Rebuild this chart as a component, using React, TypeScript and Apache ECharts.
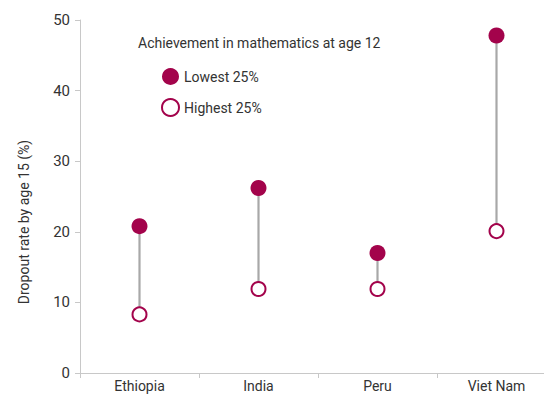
import React, { useEffect, useRef } from "react";
import * as echarts from "echarts";

const countries = ["Ethiopia", "India", "Peru", "Viet Nam"];
const lowest25 = [20.8, 26.2, 17.0, 47.8];
const highest25 = [8.3, 11.9, 11.9, 20.1];
const legendTitle = "Achievement in mathematics at age 12";
const yTitle = "Dropout rate by age 15 (%)";

const CRIMSON = "#A3034B";
const FONT = "Roboto";

export default function App() {
  const ref = useRef<HTMLDivElement>(null);
  useEffect(() => {
    if (!ref.current) return;
    const chart = echarts.init(ref.current, undefined, { renderer: "svg" });
    const ranges = countries.map((c, i) => [i, lowest25[i], highest25[i]]);
    chart.setOption({
      animation: false,
      textStyle: { fontFamily: FONT },
      grid: { left: 80, top: 20, bottom: 22, width: 476 },
      legend: {
        orient: "vertical",
        left: 156,
        top: 63,
        itemGap: 13,
        itemWidth: 17,
        itemHeight: 17,
        textStyle: { fontFamily: FONT, fontSize: 14, color: "#333" },
        data: [
          { name: "Lowest 25%", icon: "circle" },
          { name: "Highest 25%", icon: "circle" },
        ],
      },
      graphic: [
        {
          type: "text",
          left: 138,
          top: 36,
          style: { text: legendTitle, font: `14px ${FONT}`, fill: "#333" },
        },
        {
          type: "text",
          x: 24,
          y: 222,
          rotation: Math.PI / 2,
          style: {
            text: yTitle,
            font: `14px ${FONT}`,
            fill: "#333",
            align: "center",
            verticalAlign: "middle",
          },
        },
      ],
      xAxis: {
        type: "category",
        data: countries,
        axisLine: { lineStyle: { color: "#c8c8c8" } },
        axisTick: { show: true, length: 5, lineStyle: { color: "#c8c8c8" } },
        axisLabel: { color: "#333", fontSize: 14, margin: 6, fontFamily: FONT },
      },
      yAxis: {
        type: "value",
        min: 0,
        max: 50,
        interval: 10,
        splitLine: { show: false },
        axisLine: { show: true, lineStyle: { color: "#c8c8c8" } },
        axisTick: { show: true, length: 5, lineStyle: { color: "#c8c8c8" } },
        axisLabel: { color: "#333", fontSize: 15, margin: 10, fontFamily: FONT },
      },
      series: [
        {
          type: "custom",
          name: "range",
          data: ranges,
          z: 1,
          encode: { x: 0, y: [1, 2] },
          renderItem: (params: any, api: any) => {
            const p1 = api.coord([api.value(0), api.value(1)]);
            const p2 = api.coord([api.value(0), api.value(2)]);
            return {
              type: "line",
              shape: { x1: p1[0], y1: p1[1], x2: p2[0], y2: p2[1] },
              style: { stroke: "#a8a8a8", lineWidth: 2.2 },
            };
          },
        },
        {
          type: "scatter",
          name: "Lowest 25%",
          data: lowest25,
          symbol: "circle",
          symbolSize: 16,
          z: 3,
          itemStyle: { color: CRIMSON, opacity: 1 },
        },
        {
          type: "scatter",
          name: "Highest 25%",
          data: highest25,
          symbol: "circle",
          symbolSize: 14,
          z: 3,
          itemStyle: { color: "#fff", borderColor: CRIMSON, borderWidth: 2, opacity: 1 },
        },
      ],
    });
    return () => chart.dispose();
  }, []);
  return (
    <div style={{ position: "absolute", left: 0, top: 0, width: 544, height: 395, overflow: "hidden" }}>
      <div ref={ref} style={{ width: 570, height: 395 }} />
    </div>
  );
}
